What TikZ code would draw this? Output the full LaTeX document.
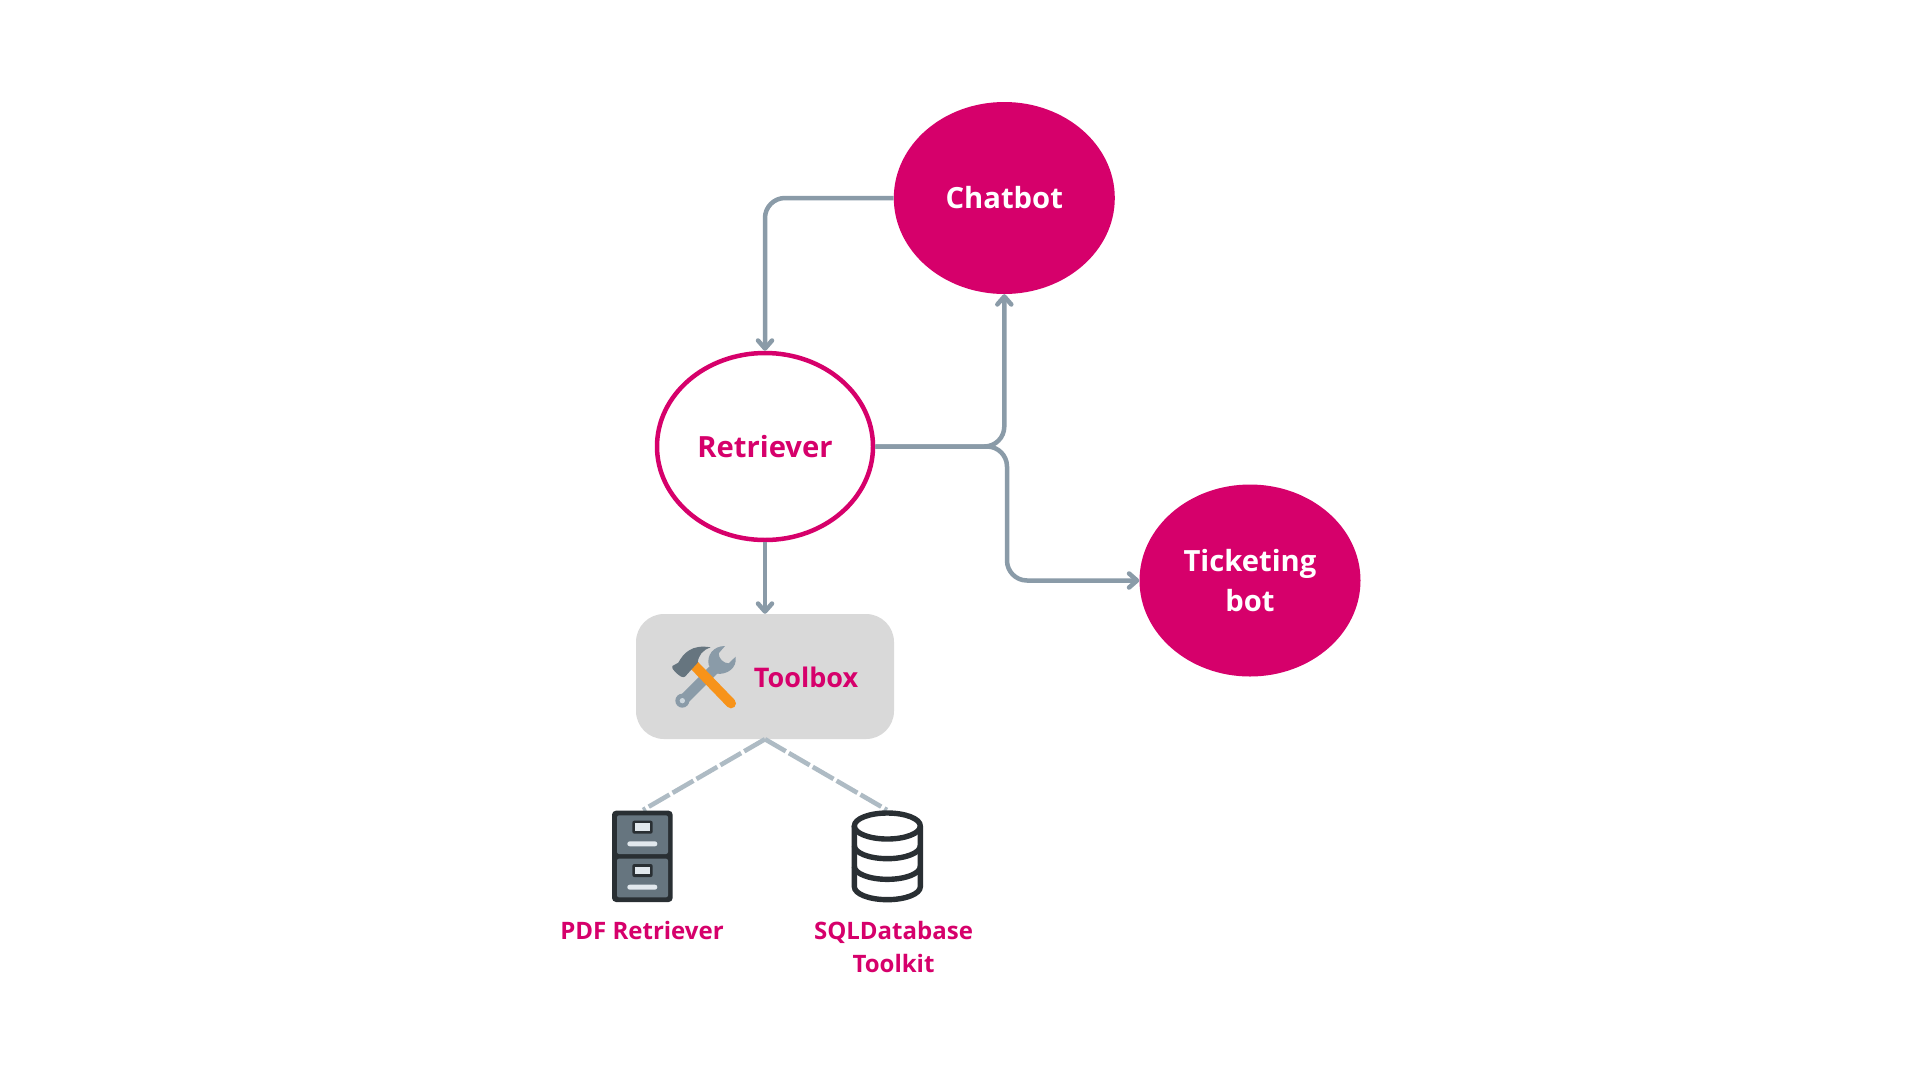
\documentclass[tikz,border=0pt]{standalone}
\usepackage{fontspec}
\setmainfont{Open Sans}
\usetikzlibrary{arrows.meta,shapes.geometric}
\definecolor{pink}{HTML}{D6006B}
\definecolor{conn}{HTML}{8A9BA8}
\definecolor{dashc}{HTML}{AEBBC4}
\definecolor{dark}{HTML}{292F33}
\definecolor{slate}{HTML}{66757F}
\definecolor{light}{HTML}{E1E8ED}
\definecolor{bar}{HTML}{CCD6DD}
\definecolor{orangeh}{HTML}{F7931A}
\tikzset{
  bot/.style={ellipse,fill=pink,text=white,font=\bfseries\fontsize{29.2}{40}\selectfont,align=center,minimum width=221pt,minimum height=192pt,inner sep=0pt},
  retr/.style={ellipse,draw=pink,line width=4.5pt,fill=white,text=pink,font=\bfseries\fontsize{29.2}{40}\selectfont,minimum width=216pt,minimum height=187pt,inner sep=0pt},
  tbox/.style={rectangle,fill=black!15,rounded corners=28pt,minimum width=258pt,minimum height=125pt,inner sep=0pt},
  lbl/.style={text=pink,font=\bfseries\fontsize{24}{33}\selectfont,align=center,inner sep=0pt},
  tlbl/.style={text=pink,font=\bfseries\fontsize{27}{33}\selectfont,inner sep=0pt},
  conline/.style={draw=conn,line width=4.5pt,rounded corners=20pt,-{Straight Barb[length=8pt,width=14pt,line width=4.5pt,round]}},
  dashline/.style={draw=dashc,line width=4.6pt,dash pattern=on 24pt off 3.6pt},
}
\begin{document}
\begin{tikzpicture}[x=1pt,y=-1pt]
\useasboundingbox (0,0) rectangle (1920,1080);
\fill[white] (0,0) rectangle (1920,1080);

\node[bot] (chatbot) at (1004.3,198) {\raisebox{-0.5pt}{Chatbot}};
\node[retr] (retriever) at (765,446.5) {\raisebox{-0.5pt}{Retriever}};
\node[bot] (ticket) at (1250,580.5) {Ticketing\\bot};
\node[tbox] (toolbox) at (765,676.5) {};
\node[tlbl,anchor=west] (toollabel) at (753.7,677) {Toolbox};

\coordinate (split) at (1007,446.5);
\coordinate (filetop) at (643,810);
\coordinate (dbtop) at (887,810);

\draw[conline] (chatbot.west) -| (retriever.north);
\draw[conline] (retriever.east) -| (chatbot.south);
\draw[conline] (retriever.east) -- (split) |- (ticket.west);
\draw[conline] (retriever.south) -- (toolbox.north);
\draw[dashline] (toolbox.south) -- (filetop);
\draw[dashline] (toolbox.south) -- (dbtop);

% toolbox icon, coordinates of a 3x crop at (620,600)
\begin{scope}[shift={(620,600)},x=0.33333pt,y=-0.33333pt]
  % wrench
  \draw[conn,line width=10.5pt,line cap=round] (190,300) -- (295,195);
  \fill[conn] (187,302) circle (21);
  \fill[conn] (266,195) .. controls (260,165) and (280,138) .. (315,138)
     -- (296,160) .. controls (296,175) and (310,190) .. (326,190) -- (347,170)
     .. controls (352,205) and (320,225) .. (290,221) -- cycle;
  \fill[bar] (187,302) circle (8);
  % hammer handle
  \draw[orangeh,line width=10pt,line cap=round] (222,195) -- (333,310);
  % hammer head
  \fill[slate] (157,198) -- (175,188) .. controls (190,160) and (215,132) .. (272,142)
     .. controls (248,150) and (236,165) .. (233,188)
     -- (195,230) .. controls (188,234) and (180,230) .. (165,215) .. controls (158,208) and (155,204) .. (157,198) -- cycle;
\end{scope}

% file cabinet, coordinates of a 3x crop at (540,730)
\begin{scope}[shift={(540,730)},x=0.33333pt,y=-0.33333pt]
  \fill[dark,rounded corners=4pt] (216,242) rectangle (398,516);
  \foreach \t in {0,130}{
    \fill[slate,rounded corners=2pt] (231,256+\t) rectangle (384,372+\t);
    \fill[dark,rounded corners=2pt] (277,272+\t) rectangle (338,311+\t);
    \fill[light] (284,280+\t) rectangle (331,303+\t);
    \fill[light,rounded corners=2.4pt] (262,334+\t) rectangle (352,349+\t);
  }
  % database
  \draw[dark,line width=5.4pt,line join=round]
    (943,288) .. controls (943,266) and (988,249) .. (1042,249)
              .. controls (1096,249) and (1141,266) .. (1141,288)
              .. controls (1141,310) and (1096,327) .. (1042,327)
              .. controls (988,327) and (943,310) .. (943,288) -- cycle;
  \draw[dark,line width=5.4pt] (943,288) -- (943,470) .. controls (943,492) and (988,509) .. (1042,509)
              .. controls (1096,509) and (1141,492) .. (1141,470) -- (1141,288);
  \foreach \b in {347,409}{
    \draw[dark,line width=5.4pt] (943,\b) .. controls (943,\b+22) and (988,\b+39) .. (1042,\b+39)
              .. controls (1096,\b+39) and (1141,\b+22) .. (1141,\b);
  }
\end{scope}

\node[lbl] (pdf) at (642,930) {PDF Retriever};
\node[lbl] (sql) at (893.5,947) {SQLDatabase\\Toolkit};
\end{tikzpicture}
\end{document}
